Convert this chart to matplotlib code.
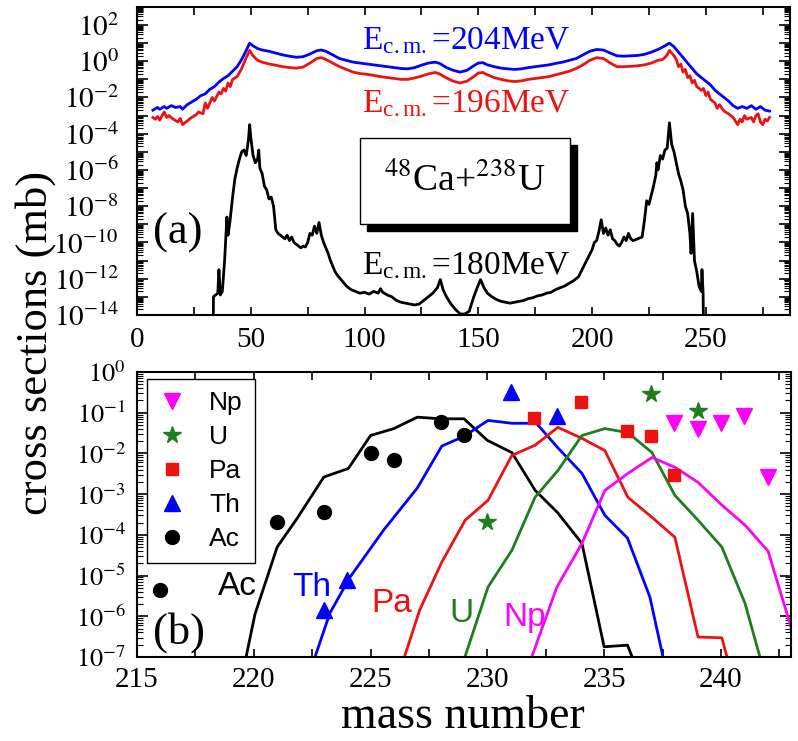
#!/usr/bin/env python3
"""Mass distributions for 48Ca+238U: (a) full spectrum, (b) near-target region."""
import numpy as np
import matplotlib
matplotlib.use("Agg")
import matplotlib.pyplot as plt
from matplotlib.ticker import MultipleLocator, LogLocator, FuncFormatter, NullFormatter
from matplotlib.patches import Rectangle

plt.rcParams["font.family"] = ["Liberation Serif", "DejaVu Serif"]
plt.rcParams["mathtext.fontset"] = "stix"

# ---- panel (a): log10(sigma) vs mass number ----
a204 = [7, 9, 10, 12, 13, 15, 17, 19, 20, 22, 24, 26, 28, 30, 32, 34, 36, 38, 40, 42,
        44, 46, 48, 49.5, 51, 53, 55, 58, 61, 64, 67, 70, 73, 76, 79, 81, 83, 86, 89, 92,
        95, 98, 101, 104, 107, 110, 113, 116, 119, 122, 125, 128, 131, 133, 136, 139, 142,
        145, 148, 150, 152, 154, 157, 160, 163, 166, 169, 172, 175, 178, 181, 184, 187,
        190, 193, 196, 199, 202, 205, 208, 211, 214, 217, 220, 223, 226, 229, 232, 234,
        236, 238, 240, 242, 244, 246, 248, 250, 252, 254, 256, 258, 260, 262, 264, 266,
        268, 270, 272, 274, 276, 278]
s204 = [-2.7, -2.55, -2.65, -2.5, -2.6, -2.45, -2.55, -2.5, -2.65, -2.4, -2.25, -2.1, -1.9,
        -1.8, -1.55, -1.4, -1.15, -0.95, -0.8, -0.55, -0.3, 0.1, 0.6, 1.0, 0.85, 0.7, 0.62,
        0.55, 0.45, 0.35, 0.28, 0.22, 0.25, 0.4, 0.58, 0.62, 0.55, 0.35, 0.15, 0.05, -0.05,
        -0.1, -0.15, -0.2, -0.25, -0.3, -0.35, -0.4, -0.42, -0.35, -0.22, -0.1, -0.05,
        -0.12, -0.35, -0.5, -0.6, -0.5, -0.25, -0.1, -0.08, -0.2, -0.3, -0.38, -0.42,
        -0.45, -0.42, -0.35, -0.3, -0.25, -0.2, -0.12, -0.05, 0.05, 0.15, 0.35, 0.55,
        0.65, 0.62, 0.45, 0.3, 0.28, 0.3, 0.32, 0.38, 0.5, 0.65, 0.85, 1.0, 0.8, 0.5, 0.2,
        -0.1, -0.4, -0.7, -0.9, -1.1, -1.3, -1.6, -1.8, -2.0, -2.2, -2.45, -2.6, -2.5,
        -2.6, -2.45, -2.65, -2.5, -2.7, -2.75]

a196 = [7, 8, 9, 10, 11, 12, 13, 14, 16, 18, 19, 20, 22, 24, 26, 27, 29, 30, 31, 33, 34,
        36, 37, 38, 39, 40, 41, 42, 44, 46, 48, 49.5, 51, 53, 55, 58, 61, 64, 67, 70, 73,
        76, 79, 81, 83, 86, 89, 92, 95, 98, 101, 104, 107, 110, 113, 116, 119, 122, 125,
        128, 131, 133, 136, 139, 142, 145, 148, 150, 152, 154, 157, 160, 163, 166, 169,
        172, 175, 178, 181, 184, 187, 190, 193, 196, 199, 202, 205, 208, 211, 214, 217,
        220, 223, 226, 229, 231, 232, 233, 234, 236, 237, 238, 239, 240, 241, 242, 243,
        244, 245, 246, 248, 249, 250, 251, 252, 254, 255, 256, 258, 260, 262, 263, 264,
        265, 266, 267, 268, 270, 271, 272, 273, 274, 275, 276, 277, 278]
s196 = [-3.1, -3.2, -3.05, -3.25, -3.0, -2.8, -3.1, -3.0, -3.2, -3.35, -3.15, -3.5, -3.3,
        -3.1, -2.95, -2.8, -2.9, -2.3, -2.6, -2.0, -2.2, -1.7, -1.8, -1.5, -1.65, -1.2,
        -1.4, -1.0, -0.85, -0.4, 0.2, 0.6, 0.3, 0.05, -0.05, -0.15, -0.22, -0.3, -0.35,
        -0.38, -0.32, -0.1, 0.15, 0.2, 0.1, -0.1, -0.3, -0.45, -0.6, -0.68, -0.72, -0.78,
        -0.85, -0.9, -0.95, -1.0, -1.0, -0.92, -0.82, -0.7, -0.62, -0.7, -0.92, -1.1,
        -1.2, -1.1, -0.85, -0.65, -0.62, -0.75, -0.9, -1.0, -1.08, -1.12, -1.08, -1.0,
        -0.95, -0.9, -0.85, -0.75, -0.65, -0.55, -0.4, -0.2, 0.05, 0.2, 0.15, -0.1, -0.3,
        -0.3, -0.28, -0.25, -0.2, -0.1, 0.05, 0.1, 0.2, 0.35, 0.6, 0.3, 0.1, -0.3, -0.15,
        -0.6, -0.45, -0.9, -0.8, -1.2, -1.05, -1.4, -1.6, -1.5, -1.9, -1.7, -2.1, -2.3,
        -2.6, -2.4, -2.75, -2.9, -3.1, -3.3, -3.5, -3.2, -3.35, -3.0, -3.2, -3.1, -3.35,
        -3.0, -2.9, -3.35, -3.5, -3.2, -3.3, -3.1]

a180 = [33.5, 33.6, 34.5, 35.5, 36, 36.6, 37.5, 38.5, 39.5, 40, 40.8, 42, 43, 44, 45, 46,
        47, 48, 49, 49.5, 50, 51, 52, 53, 53.5, 54, 55, 56, 57, 58, 59, 60, 61, 62, 63, 64,
        65, 66, 67, 68, 69, 70, 71, 72, 73, 74, 75, 76, 77, 78, 79, 80, 81, 82, 83, 84, 85,
        86, 87, 88, 90, 92, 94, 96, 98, 100, 102, 104, 106, 107, 108, 110, 112, 114, 116,
        118, 120, 122, 124, 126, 128, 130, 132, 133.3, 134.5, 136, 138, 140, 142, 144, 146,
        148, 149.5, 151, 152.5, 154, 156, 158, 160, 162, 164, 166, 168, 170, 172, 174, 176,
        178, 180, 182, 184, 186, 188, 190, 192, 194, 196, 198, 200, 201, 202, 203, 204,
        205, 206, 207, 208, 209, 210, 211, 212, 213, 214, 215, 216, 217, 218, 220, 222,
        223, 224, 225, 226, 227, 228, 228.5, 229, 230, 231, 232, 233, 234, 235, 236, 237,
        238, 239, 240, 241, 242, 243, 243.5, 244.2, 245, 246, 247, 248, 248.3, 248.8, 249]
s180 = [-15, -13.0, -12.9, -12.8, -11.5, -12.9, -12.7, -11.0, -8.6, -9.6, -8.9, -7.5, -6.5,
        -5.9, -5.4, -5.0, -4.9, -5.2, -4.3, -3.5, -4.2, -5.2, -5.6, -5.4, -4.9, -5.9, -6.2,
        -6.9, -7.1, -7.6, -7.5, -8.0, -9.3, -9.5, -9.6, -9.7, -9.8, -9.6, -9.9, -9.7,
        -10.0, -10.1, -10.2, -10.3, -10.2, -10.25, -10.0, -9.5, -9.6, -9.1, -9.5, -8.9,
        -9.6, -10.0, -10.3, -10.6, -11.0, -11.3, -11.6, -11.8, -12.1, -12.4, -12.6, -12.7,
        -12.8, -12.75, -12.85, -12.7, -12.8, -12.55, -12.75, -12.9, -13.0, -13.2, -13.3,
        -13.35, -13.4, -13.45, -13.4, -13.2, -13.0, -12.8, -12.5, -12.05, -12.6, -13.0,
        -13.4, -13.7, -13.95, -13.95, -13.8, -13.0, -12.5, -12.05, -12.5, -12.8, -13.0,
        -13.15, -13.25, -13.3, -13.35, -13.3, -13.25, -13.2, -13.1, -13.05, -12.95, -12.9,
        -12.8, -12.75, -12.6, -12.5, -12.4, -12.25, -12.1, -11.9, -11.4, -10.9, -10.4,
        -10.0, -9.9, -9.4, -8.75, -9.5, -9.2, -9.6, -9.3, -9.8, -9.9, -10.1, -10.2, -10.0,
        -9.7, -9.9, -9.5, -9.8, -9.9, -9.8, -9.7, -8.8, -7.7, -7.9, -7.4, -6.9, -6.3, -5.6,
        -6.0, -5.2, -5.4, -4.9, -4.8, -3.4, -4.6, -5.0, -5.6, -6.2, -6.6, -7.1, -8.0, -8.4,
        -9.5, -10.6, -8.4, -11.0, -11.6, -12.4, -12.7, -11.5, -12.8, -15]

# ---- panel (b): calculated curves (log10 sigma) ----
ac_a = [219.67, 220.05, 221.0, 221.85, 223.0, 224.05, 225.0, 226.0, 227.0, 228.0, 229.0,
        230.0, 231.05, 232.05, 233.0, 234.05, 235.0, 236.0, 236.2]
ac_s = [-7.0, -5.95, -4.3, -3.6, -2.58, -2.37, -1.56, -1.39, -1.11, -1.15, -1.15, -1.68,
        -1.98, -2.91, -3.45, -4.21, -6.75, -6.71, -7.0]
th_a = [222.62, 223.26, 224.12, 225.55, 227.0, 228.05, 229.0, 230.03, 231.05, 232.1, 233.0,
        234.05, 235.03, 236.0, 236.96, 237.52]
th_s = [-7.0, -5.92, -5.04, -3.89, -2.85, -1.82, -1.58, -1.19, -1.26, -1.26, -1.85, -2.49,
        -3.52, -4.08, -5.53, -7.0]
pa_a = [226.45, 227.1, 228.05, 229.05, 230.03, 231.05, 232.04, 233.02, 234.05, 235.03,
        236.02, 237.05, 238.03, 239.02, 240.04, 240.26]
pa_s = [-7.0, -5.85, -4.67, -3.64, -3.15, -2.05, -1.8, -1.36, -1.63, -1.93, -3.08, -3.57,
        -4.06, -6.51, -6.53, -7.0]
u_a = [229.04, 230.03, 231.05, 232.04, 233.02, 234.05, 235.03, 236.02, 237.05, 238.03,
       239.02, 240.04, 241.03, 241.67]
u_s = [-7.0, -5.28, -4.38, -3.08, -2.42, -1.56, -1.39, -1.49, -1.98, -3.03, -3.64, -4.3,
       -5.68, -7.0]
np_a = [231.9, 232.98, 234.05, 235.03, 236.02, 237.05, 238.03, 239.02, 240.04, 241.03,
        242.02, 243.04]
np_s = [-7.0, -5.28, -4.21, -2.91, -2.49, -2.1, -2.34, -2.71, -3.27, -3.76, -4.4, -6.34]

# ---- panel (b): experimental points (log10 sigma) ----
ac_exp_a = [216, 221, 223, 225, 226, 228, 229]
ac_exp_s = [-5.36, -3.69, -3.45, -1.98, -2.17, -1.24, -1.56]
th_exp_a = [223, 224, 231, 233]
th_exp_s = [-5.85, -5.11, -0.5, -1.07]
pa_exp_a = [232, 234, 236, 237, 238]
pa_exp_s = [-1.12, -0.73, -1.44, -1.58, -2.54]
u_exp_a = [230, 237, 239]
u_exp_s = [-3.69, -0.55, -0.97]
np_exp_a = [238, 239, 240, 241, 242]
np_exp_s = [-1.26, -1.41, -1.26, -1.07, -2.59]

BLUE, RED, GREEN, MAG = "#0000ff", "#ee1111", "#1e7d1e", "#ff00ff"


def pow10(v):
    return 10.0 ** np.asarray(v)


def exp_label(every):
    def f(val, pos):
        e = int(round(np.log10(val)))
        if e % every:
            return ""
        return r"$10^{%d}$" % e
    return f


fig = plt.figure(figsize=(7.98, 7.41), dpi=100)
ax1 = fig.add_axes([0.1717, 0.575, 0.8183, 0.4157])
ax2 = fig.add_axes([0.1717, 0.1134, 0.8195, 0.3846])

# --- top panel ---
ax1.plot(a204, pow10(s204), color=BLUE, lw=2.0)
ax1.plot(a196, pow10(s196), color=RED, lw=2.0)
ax1.plot(a180, pow10(s180), color="k", lw=2.0)
ax1.set_yscale("log")
ax1.set_xlim(0, 287)
ax1.set_ylim(1e-14, 1e3)
ax1.xaxis.set_major_locator(MultipleLocator(25))
ax1.xaxis.set_major_formatter(FuncFormatter(lambda v, p: "%d" % v if v % 50 == 0 else ""))
ax1.yaxis.set_major_locator(LogLocator(base=10, numticks=40))
ax1.yaxis.set_minor_locator(LogLocator(base=10, subs=np.arange(2, 10), numticks=40))
ax1.yaxis.set_minor_formatter(NullFormatter())
ax1.yaxis.set_major_formatter(FuncFormatter(exp_label(2)))
ax1.tick_params(axis="x", which="major", direction="in", top=True, length=6, width=1.2,
                labelsize=21, pad=9)
ax1.tick_params(axis="y", which="major", direction="in", right=True, length=8, width=1.2,
                labelsize=21, pad=13)
ax1.tick_params(axis="y", which="minor", direction="in", right=True, length=4, width=0.8)

sub = r"E$_\mathregular{c{.}m{.}}$"
ax1.text(99, 10 ** 0.64, sub + "=204MeV", color=BLUE, fontsize=24,
         ha="left", va="baseline")
ax1.text(99, 10 ** -2.84, sub + "=196MeV", color=RED, fontsize=24,
         ha="left", va="baseline")
ax1.text(99, 10 ** -11.79, sub + "=180MeV", color="k", fontsize=24,
         ha="left", va="baseline")
ax1.text(18, 10 ** -9.47, "(a)", fontsize=32, ha="center", va="center")

# box with drop shadow
ax1.add_patch(Rectangle((0.352, 0.273), 0.3216, 0.279, transform=ax1.transAxes,
                        facecolor="k", edgecolor="k", zorder=4))
ax1.add_patch(Rectangle((0.3415, 0.2955), 0.3216, 0.279, transform=ax1.transAxes,
                        facecolor="white", edgecolor="k", lw=1.0, zorder=5))
ax1.text(0.5023, 0.435, r"$^{48}$Ca+$^{238}$U", transform=ax1.transAxes, fontsize=27,
         ha="center", va="center", zorder=6)

# --- bottom panel ---
ax2.plot(ac_a, pow10(ac_s), color="k", lw=2.0)
ax2.plot(th_a, pow10(th_s), color=BLUE, lw=2.0)
ax2.plot(pa_a, pow10(pa_s), color=RED, lw=2.0)
ax2.plot(u_a, pow10(u_s), color=GREEN, lw=2.0)
ax2.plot(np_a, pow10(np_s), color=MAG, lw=2.0)

h_np, = ax2.plot(np_exp_a, pow10(np_exp_s), "v", color=MAG, ms=11, ls="none", label="Np")
h_u, = ax2.plot(u_exp_a, pow10(u_exp_s), "*", color=GREEN, ms=13, ls="none", label="U")
h_pa, = ax2.plot(pa_exp_a, pow10(pa_exp_s), "s", color=RED, ms=9, ls="none", label="Pa")
h_th, = ax2.plot(th_exp_a, pow10(th_exp_s), "^", color=BLUE, ms=11, ls="none", label="Th")
h_ac, = ax2.plot(ac_exp_a, pow10(ac_exp_s), "o", color="k", ms=10, ls="none", label="Ac")

ax2.set_yscale("log")
ax2.set_xlim(215, 243)
ax2.set_ylim(1e-7, 1e0)
ax2.xaxis.set_major_locator(MultipleLocator(2.5))
ax2.xaxis.set_major_formatter(FuncFormatter(lambda v, p: "%d" % v if v % 5 == 0 else ""))
ax2.yaxis.set_major_locator(LogLocator(base=10, numticks=20))
ax2.yaxis.set_minor_locator(LogLocator(base=10, subs=np.arange(2, 10), numticks=20))
ax2.yaxis.set_minor_formatter(NullFormatter())
ax2.yaxis.set_major_formatter(FuncFormatter(exp_label(1)))
ax2.tick_params(axis="x", which="major", direction="in", top=True, length=6, width=1.2,
                labelsize=21, pad=7)
ax2.tick_params(axis="y", which="major", direction="in", right=True, length=8, width=1.2,
                labelsize=19, pad=8)
ax2.tick_params(axis="y", which="minor", direction="in", right=True, length=4, width=0.8)

sans = ["Liberation Sans", "DejaVu Sans"]
for name, xa, ya, col in [("Ac", 219.3, -5.28, "k"), ("Th", 222.5, -5.3, BLUE),
                          ("Pa", 225.9, -5.68, RED), ("U", 228.9, -5.92, GREEN),
                          ("Np", 231.6, -6.02, MAG)]:
    ax2.text(xa, 10 ** ya, name, color=col, fontsize=24, family=sans,
             ha="center", va="center")
ax2.text(216.8, 10 ** -6.39, "(b)", fontsize=32, ha="center", va="center")

leg = ax2.legend(handles=[h_np, h_u, h_pa, h_th, h_ac], loc="upper left",
                 bbox_to_anchor=(0.0153, 0.975), borderaxespad=0, fancybox=False,
                 edgecolor="k", framealpha=1, prop={"family": sans, "size": 19},
                 handlelength=1.0, handletextpad=0.9, labelspacing=0.38, borderpad=0.45)
leg.get_frame().set_linewidth(1.0)

for ax in (ax1, ax2):
    for sp in ax.spines.values():
        sp.set_linewidth(1.5)

fig.text(0.045, 0.537, "cross sections (mb)", rotation=90, fontsize=32,
         ha="center", va="center")
fig.text(0.58, 0.0175, "mass number", fontsize=33, ha="center", va="baseline")

fig.savefig("out.png", dpi=100)
